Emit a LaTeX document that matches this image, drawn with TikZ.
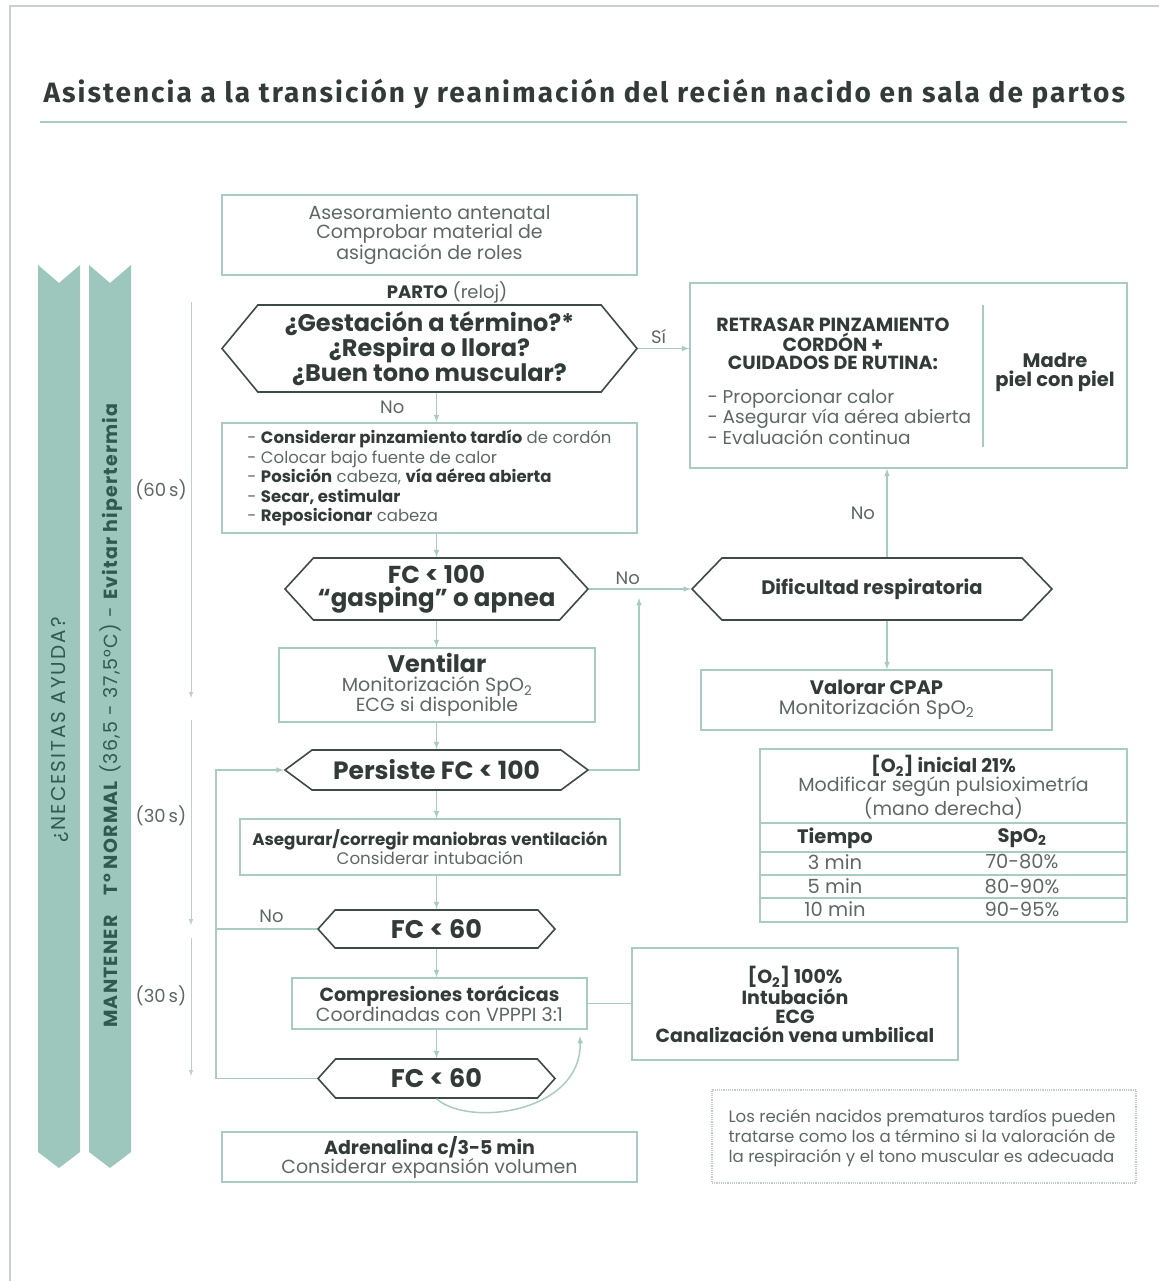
\documentclass[tikz,border=0pt]{standalone}
\usepackage{fontspec}
\setmainfont{Poppins}
\newfontfamily\titlefont{Fira Sans}[LetterSpace=7.3]
\newfontfamily\ribfont{Poppins}[LetterSpace=6]
\newfontfamily\ayudafont{Poppins}[LetterSpace=10]
\usetikzlibrary{shapes.symbols, arrows, positioning, calc}

\definecolor{ribc}{HTML}{9DC7BC}
\definecolor{ribtxt}{HTML}{2F5A50}
\definecolor{boxc}{HTML}{A9CBC2}
\definecolor{hexc}{HTML}{3F4A47}
\definecolor{darkc}{HTML}{333B39}
\definecolor{greyc}{HTML}{5E6764}
\definecolor{framec}{HTML}{C9D0CE}
\definecolor{tlc}{HTML}{C3CCCA}

\begin{document}
\begin{tikzpicture}[x=1pt, y=-1pt, >=latex,
  box/.style={draw=boxc, line width=1.6pt, align=center, inner sep=0pt, text=greyc},
  hexa/.style={draw=hexc, line width=1.6pt, signal, signal to=west and east,
    align=center, inner sep=0pt, text=darkc, font=\bfseries},
  link/.style={draw=boxc, line width=1.5pt},
  tline/.style={draw=tlc, line width=1pt},
  lab/.style={text=greyc, font=\fontsize{18}{19}\selectfont},
  bf/.style={text=darkc, font=\bfseries}]

  \useasboundingbox (0,0) rectangle (1159,1281);
  \draw[framec, line width=1.5pt] (10,1281) -- (10,6) -- (1159,6);

  \node[anchor=base west, text=darkc, font=\titlefont\bfseries\fontsize{28}{30}\selectfont] (title) at (40,103)
    {Asistencia a la transición y reanimación del recién nacido en sala de partos};
  \draw[boxc, line width=2pt] (40,122) -- (1127,122);

  \fill[ribc] (38,265) -- (59,283) -- (80,265) -- (80,1152) -- (59,1168) -- (38,1152) -- cycle;
  \fill[ribc] (89,265) -- (110,283) -- (131,265) -- (131,1152) -- (110,1168) -- (89,1152) -- cycle;
  \node[rotate=90, text=ribtxt, font=\ayudafont\fontsize{20}{20}\selectfont] (ayuda) at (60,730) {¿NECESITAS AYUDA?};
  \node[rotate=90, text=ribtxt, font=\ribfont\fontsize{19}{20}\selectfont] (temp) at (111,715)
    {\textbf{MANTENER}\quad\textbf{T° NORMAL} (36,5 - 37,5°C) - \textbf{Evitar hipertermia}};

  \draw[tline, ->] (191,302) -- (191,698);
  \draw[tline, ->] (191,720) -- (191,925);
  \draw[tline, ->] (191,938) -- (191,1076);
  \node[lab] (t60) at (161,490) {(60\,s)};
  \node[lab] (t30a) at (161,816) {(30\,s)};
  \node[lab] (t30b) at (161,996) {(30\,s)};

  \node[box, minimum width=415, minimum height=80, font=\fontsize{19}{19}\selectfont] (ante) at (429.5,235)
    {Asesoramiento antenatal\\Comprobar material de\\asignación de roles};
  \node[lab] (parto) at (447,292) {\textcolor{darkc}{\bfseries PARTO} (reloj)};
  \node[hexa, minimum width=415, minimum height=87, signal pointer angle=101,
    font=\bfseries\fontsize{24}{25}\selectfont] (termino) at (429.5,348.5)
    {¿Gestación a término?*\\¿Respira o llora?\\¿Buen tono muscular?};
  \node[box, minimum width=415, minimum height=110, align=left, font=\fontsize{16.5}{19.5}\selectfont] (cuidados) at (429.5,478)
    {- \textcolor{darkc}{\bfseries Considerar pinzamiento tardío} de cordón\\
     - Colocar bajo fuente de calor\\
     - \textcolor{darkc}{\bfseries Posición} cabeza, \textcolor{darkc}{\bfseries vía aérea abierta}\\
     - \textcolor{darkc}{\bfseries Secar, estimular}\\
     - \textcolor{darkc}{\bfseries Reposicionar} cabeza};
  \node[hexa, minimum width=303, minimum height=62, signal pointer angle=95,
    font=\bfseries\fontsize{24.5}{23}\selectfont] (fc100) at (436.5,589)
    {FC < 100\\“gasping” o apnea};
  \node[box, minimum width=316, minimum height=74, font=\fontsize{19}{18.5}\selectfont] (ventilar) at (437,685)
    {\textcolor{darkc}{\bfseries\fontsize{24}{24}\selectfont Ventilar}\\Monitorización SpO\textsubscript{2}\\ECG si disponible};
  \node[hexa, minimum width=303, minimum height=40, signal pointer angle=73,
    font=\bfseries\fontsize{25}{24}\selectfont] (persiste) at (436.5,770) {Persiste FC < 100};
  \node[box, minimum width=380, minimum height=56, font=\fontsize{16.7}{19}\selectfont] (asegurar) at (430,847)
    {\textcolor{darkc}{\bfseries Asegurar/corregir maniobras ventilación}\\Considerar intubación};
  \node[hexa, minimum width=237, minimum height=38, signal pointer angle=96,
    font=\bfseries\fontsize{25.5}{24}\selectfont] (fc60a) at (436.5,929) {FC < 60};
  \node[box, minimum width=295, minimum height=51, font=\fontsize{19}{19}\selectfont] (compres) at (439.5,1003.5)
    {\textcolor{darkc}{\bfseries Compresiones torácicas}\\Coordinadas con VPPPI 3:1};
  \node[hexa, minimum width=237, minimum height=39, signal pointer angle=96,
    font=\bfseries\fontsize{25.5}{24}\selectfont] (fc60b) at (436.5,1078.5) {FC < 60};
  \node[box, minimum width=415, minimum height=50, font=\fontsize{19}{19}\selectfont] (adren) at (429.5,1157)
    {\textcolor{darkc}{\bfseries Adrenalina c/3-5 min}\\Considerar expansión volumen};

  \node[box, minimum width=326, minimum height=112, text=darkc, font=\bfseries\fontsize{19}{19}\selectfont] (oxigeno) at (795,1004)
    {[O\textsubscript{2}] 100\%\\Intubación\\ECG\\Canalización vena umbilical};

  \node[box, minimum width=437, minimum height=185] (rutina) at (908.5,375.5) {};
  \draw[boxc, line width=1.2pt] (983,305) -- (983,447);
  \node[bf, align=center, font=\bfseries\fontsize{19}{18.5}\selectfont] (retrasar) at (833,344)
    {RETRASAR PINZAMIENTO\\CORDÓN +\\CUIDADOS DE RUTINA:};
  \node[lab, align=left, anchor=west, font=\fontsize{18.5}{19.5}\selectfont] (lista) at (704,417)
    {- Proporcionar calor\\- Asegurar vía aérea abierta\\- Evaluación continua};
  \node[bf, align=center, font=\bfseries\fontsize{19.5}{19}\selectfont] (madre) at (1055,372) {Madre\\piel con piel};

  \node[hexa, minimum width=360, minimum height=62, signal pointer angle=92,
    font=\bfseries\fontsize{19.5}{19}\selectfont] (dificultad) at (872,589) {Dificultad respiratoria};
  \node[box, minimum width=351, minimum height=60, font=\fontsize{19.5}{19.5}\selectfont] (cpap) at (876.5,700)
    {\textcolor{darkc}{\bfseries Valorar CPAP}\\Monitorización SpO\textsubscript{2}};

  \node[box, minimum width=367, minimum height=173] (tabla) at (943.5,835.5) {};
  \foreach \y in {823,852,875,898}
    \draw[boxc, line width=1.2pt] (760,\y) -- (1127,\y);
  \node[lab, align=center, font=\fontsize{19}{19}\selectfont] (inicial) at (943.5,787)
    {\textcolor{darkc}{\bfseries [O\textsubscript{2}] inicial 21\%}\\Modificar según pulsioximetría\\(mano derecha)};
  \node[bf, font=\bfseries\fontsize{19.5}{19}\selectfont] (tiempo) at (835,838) {Tiempo};
  \node[bf, font=\bfseries\fontsize{19.5}{19}\selectfont] (spo) at (1022,838) {SpO\textsubscript{2}};
  \node[lab, font=\fontsize{19.5}{19}\selectfont] (m3) at (835,862) {3 min};
  \node[lab, font=\fontsize{19.5}{19}\selectfont] (s3) at (1022,862) {70-80\%};
  \node[lab, font=\fontsize{19.5}{19}\selectfont] (m5) at (835,886) {5 min};
  \node[lab, font=\fontsize{19.5}{19}\selectfont] (s5) at (1022,886) {80-90\%};
  \node[lab, font=\fontsize{19.5}{19}\selectfont] (m10) at (835,909) {10 min};
  \node[lab, font=\fontsize{19.5}{19}\selectfont] (s10) at (1022,909) {90-95\%};

  \node[draw=tlc, densely dotted, line width=1.2pt, minimum width=424, minimum height=93, inner sep=0pt] (nota) at (924,1136.5) {};
  \node[lab, align=left, anchor=west, font=\fontsize{16.6}{20}\selectfont] (notatxt) at (725,1138)
    {Los recién nacidos prematuros tardíos pueden\\tratarse como los a término si la valoración de\\la respiración y el tono muscular es adecuada};

  \coordinate (ax) at (887,0);
  \coordinate (loop) at (216,770);
  \coordinate (sube) at (639,598);
  \coordinate (curva) at (580,1036);

  \draw[link, ->] (termino.east) -- (rutina.west |- termino.east) node[pos=0.4, above=1pt, lab] (si) {Sí};
  \draw[link, ->] (termino.south -| fc100) -- (cuidados.north -| fc100) node[midway, left=28pt, lab] (no1) {No};
  \draw[link, ->] (cuidados.south -| fc100) -- (fc100.north);
  \draw[link, ->] (fc100.east) -- (dificultad.west) node[pos=0.38, above, lab] (no2) {No};
  \draw[link, ->] (fc100.south) -- (ventilar.north -| fc100);
  \draw[link, ->] (ventilar.south -| fc100) -- (persiste.north);
  \draw[link, ->] (persiste.east) -| (sube);
  \draw[link, ->] (persiste.south) -- (asegurar.north -| persiste);
  \draw[link, ->] (asegurar.south -| persiste) -- (fc60a.north);
  \draw[link, ->] (fc60a.south) -- (compres.north -| fc60a);
  \draw[link, ->] (compres.south -| fc60a) -- (fc60b.north);
  \draw[link] (compres.east) -- (oxigeno.west |- compres.east);
  \draw[link, ->] (fc60b.west) -| (loop) -- (persiste.west);
  \draw[link] (fc60a.west) -- (fc60a.west -| loop) node[pos=0.45, above=2pt, lab] (no3) {No};
  \draw[link, ->] (fc60b.south) .. controls (470,1128) and (582,1112) .. (curva);
  \draw[link, ->] (dificultad.north -| ax) -- (rutina.south -| ax) node[midway, left=8pt, lab] (no4) {No};
  \draw[link, ->] (dificultad.south -| ax) -- (cpap.north -| ax);
\end{tikzpicture}
\end{document}
